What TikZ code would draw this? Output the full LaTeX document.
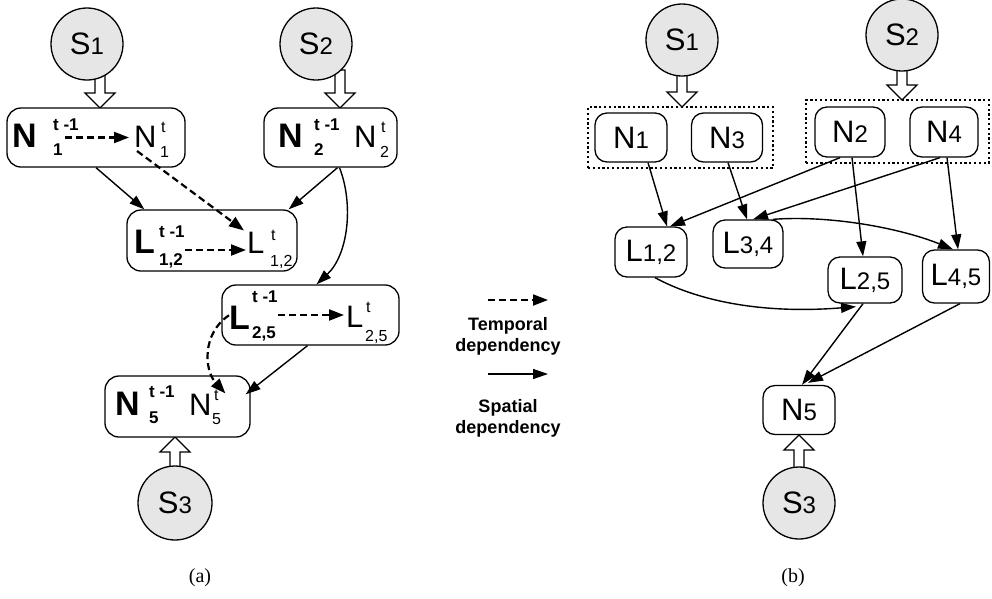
\documentclass[tikz,border=0pt]{standalone}
\usepackage{fontspec}
\setmainfont{Liberation Sans}
\newfontfamily\capserif{Liberation Serif}
\usetikzlibrary{arrows.meta,calc}
\definecolor{sgray}{HTML}{E6E6E6}
\newcommand{\myfA}{\fontsize{34}{34}\selectfont\bfseries}
\newcommand{\myfB}{\fontsize{31}{31}\selectfont}
\newcommand{\myfC}{\fontsize{17}{17}\selectfont\bfseries}
\newcommand{\myfD}{\fontsize{16}{16}\selectfont}
\newcommand{\myfE}{\fontsize{24}{24}\selectfont}
\newcommand{\myfL}{\fontsize{18}{21}\selectfont\bfseries}
\newcommand{\hdown}[2]{\draw[hol] ($(#1)+(-5,0)$) -- ($(#2)+(-5,-15)$) -- ($(#2)+(-15,-15)$) -- (#2) -- ($(#2)+(15,-15)$) -- ($(#2)+(5,-15)$) -- ($(#1)+(5,0)$) -- cycle;}
\newcommand{\hup}[2]{\draw[hol] ($(#1)+(-5,0)$) -- ($(#2)+(-5,15)$) -- ($(#2)+(-15,15)$) -- (#2) -- ($(#2)+(15,15)$) -- ($(#2)+(5,15)$) -- ($(#1)+(5,0)$) -- cycle;}
\tikzset{
 sens/.style={circle, draw, fill=sgray, line width=1.3pt, minimum size=72pt, inner sep=0pt},
 rbox/.style={draw, fill=white, rounded corners=14pt, line width=1.3pt, inner sep=0pt},
 txt/.style={inner sep=0pt, anchor=base west},
 sp/.style={line width=1.4pt, -{Triangle[length=15pt,width=10pt]}},
 tp/.style={line width=2.2pt, dash pattern=on 7pt off 4pt, -{Triangle[length=15pt,width=11pt]}},
 grp/.style={draw, line width=2.2pt, dash pattern=on 2.2pt off 2.6pt},
 hol/.style={draw, fill=white, line width=1.3pt, line join=miter},
}
\begin{document}
\begin{tikzpicture}[x=1pt,y=-1pt]
\useasboundingbox (0,0) rectangle (992,598);
% ---------------- (a) ----------------
\coordinate (ha1) at (100,70); \coordinate (hb1) at (100,108);
\coordinate (ha2) at (340,70); \coordinate (hb2) at (340,108);
\coordinate (ha3) at (175,475); \coordinate (hb3) at (175,437);
\hdown{ha1}{hb1}
\hdown{ha2}{hb2}
\hup{ha3}{hb3}
\node[sens] (S1) at (87,44) {\myfB S\myfE 1};
\node[sens] (S2) at (316,44) {\myfB S\myfE 2};
\node[sens, minimum size=74pt] (S3) at (175,503) {\myfB S\myfE 3};
\node[rbox, minimum width=178pt, minimum height=59pt] (N1) at (96,137.5) {};
\node[rbox, minimum width=133pt, minimum height=59pt] (N2) at (330.5,137.5) {};
\node[rbox, minimum width=170pt, minimum height=61pt] (L12) at (212,240.5) {};
\node[rbox, minimum width=177pt, minimum height=60pt] (L25) at (310.5,315) {};
\node[rbox, minimum width=145pt, minimum height=61pt] (N5) at (177.5,406.5) {};
% N1 contents
\node[txt] (N1p) at (12,147) {\myfA N};
\node[txt] (N1ps) at (53,130) {\myfC t -1};
\node[txt] (N1pb) at (53,155) {\myfC 1};
\node[txt] (N1c) at (134,147) {\myfB N};
\node[txt] (N1cs) at (161,132) {\myfD t};
\node[txt] (N1cb) at (160,157) {\myfD 1};
\draw[tp] ($(N1pb.east |- N1.center)+(2,0)$) -- ($(N1c.west |- N1.center)+(-5,0)$);
% N2 contents
\node[txt] (N2p) at (278,147) {\myfA N};
\node[txt] (N2ps) at (314,130) {\myfC t -1};
\node[txt] (N2pb) at (314,155) {\myfC 2};
\node[txt] (N2c) at (354,147) {\myfB N};
\node[txt] (N2cs) at (381,132) {\myfD t};
\node[txt] (N2cb) at (380,157) {\myfD 2};
% L12 contents
\node[txt] (L12p) at (134,253) {\myfA L};
\node[txt] (L12ps) at (159,237) {\myfC t -1};
\node[txt] (L12pb) at (159,265) {\myfC 1,2};
\node[txt] (L12c) at (247,253) {\myfB L};
\node[txt] (L12cs) at (271,240) {\myfD t};
\node[txt] (L12cb) at (270,266) {\myfD 1,2};
\draw[tp] ($(L12pb.east |- L12c.base west)+(2,-3)$) -- ($(L12c.base west)+(-1,-3)$);
% L25 contents
\node[txt] (L25p) at (229,329) {\myfA L};
\node[txt] (L25ps) at (252,302) {\myfC t -1};
\node[txt] (L25pb) at (252,338) {\myfC 2,5};
\node[txt] (L25c) at (346,327) {\myfB L};
\node[txt] (L25cs) at (366,312) {\myfD t};
\node[txt] (L25cb) at (365,341) {\myfD 2,5};
\draw[tp] ($(L25pb.east |- L25.center)+(2,0)$) -- ($(L25c.west |- L25.center)+(-2,0)$);
% N5 contents
\node[txt] (N5p) at (115,415) {\myfA N};
\node[txt] (N5ps) at (149,397) {\myfC t -1};
\node[txt] (N5pb) at (149,423) {\myfC 5};
\node[txt] (N5c) at (189,415) {\myfB N};
\node[txt] (N5cs) at (214,400) {\myfD t};
\node[txt] (N5cb) at (212,424) {\myfD 5};
% connectors (a)
\draw[sp] (N1.south) -- ($(L12.north west)+(18,0)$);
\draw[sp] ($(N2.south)+(7,0)$) -- ($(L12.north east)+(-9,0)$);
\draw[sp] ($(N2.south)+(9,0)$) .. controls (354,205) and (348,255) .. ($(L25.north)+(6,0)$);
\draw[tp] ($(N1c.base west)+(3,4)$) -- ($(L12c.north west)+(-3,-1)$);
\draw[sp] ($(L25.south)+(-3,0)$) -- ($(N5.north east)+(-5,19)$);
\draw[tp] ($(L25p.west)+(0,-2)$) .. controls (202,333) and (204,370) .. ($(N5c.north)+(25,0)$);
% legend
\coordinate (lg1) at (488,300); \coordinate (lg2) at (548,300);
\coordinate (lg3) at (488,374); \coordinate (lg4) at (548,374);
\draw[tp, line width=2pt] (lg1) -- (lg2);
\draw[sp] (lg3) -- (lg4);
\node[align=center, inner sep=0pt, font=\myfL] (tlab) at (508,336) {Temporal\\dependency};
\node[align=center, inner sep=0pt, font=\myfL] (slab) at (508,418) {Spatial\\dependency};
\node[inner sep=0pt, font=\capserif\fontsize{20}{20}\selectfont] (capa) at (200,578) {(a)};
% ---------------- (b) ----------------
\coordinate (hc1) at (682,70); \coordinate (hd1) at (682,107);
\coordinate (hc2) at (902,65); \coordinate (hd2) at (902,100);
\coordinate (hc3) at (799,472); \coordinate (hd3) at (799,435);
\hdown{hc1}{hd1}
\hdown{hc2}{hd2}
\hup{hc3}{hd3}
\node[sens] (T1) at (682,40) {\myfB S\myfE 1};
\node[sens] (T2) at (902,35) {\myfB S\myfE 2};
\node[sens] (T3) at (799,503) {\myfB S\myfE 3};
\node[grp, minimum width=185pt, minimum height=61pt, inner sep=0pt] (G1) at (680.5,137.5) {};
\node[grp, minimum width=183pt, minimum height=63pt, inner sep=0pt] (G2) at (897.5,131.5) {};
\node[rbox, minimum width=72pt, minimum height=49pt, rounded corners=12pt] (M1) at (631,137.5) {\myfB N\myfE 1};
\node[rbox, minimum width=71pt, minimum height=49pt, rounded corners=12pt] (M3) at (727,137.5) {\myfB N\myfE 3};
\node[rbox, minimum width=70pt, minimum height=50pt, rounded corners=12pt] (M2) at (850,132) {\myfB N\myfE 2};
\node[rbox, minimum width=68pt, minimum height=50pt, rounded corners=12pt] (M4) at (944,132) {\myfB N\myfE 4};
\node[rbox, minimum width=72pt, minimum height=50pt, rounded corners=12pt] (K12) at (651,252) {\myfB L\myfE 1,2};
\node[rbox, minimum width=70pt, minimum height=48pt, rounded corners=12pt] (K34) at (748,244) {\myfB L\myfE 3,4};
\node[rbox, minimum width=74pt, minimum height=46pt, rounded corners=12pt] (K25) at (865,280) {\myfB L\myfE 2,5};
\node[rbox, minimum width=67pt, minimum height=53pt, rounded corners=12pt] (K45) at (956,276.5) {\myfB L\myfE 4,5};
\node[rbox, minimum width=72pt, minimum height=49pt, rounded corners=12pt] (M5) at (799,410) {\myfB N\myfE 5};
% connectors (b)
\draw[sp] ($(M1.south)+(17,0)$) -- ($(K12.north)+(16,0)$);
\draw[sp] ($(M3.south)+(1,0)$) -- ($(K34.north)+(-1,0)$);
\draw[sp] ($(M2.south)+(-10,0)$) -- ($(K12.north)+(19,0)$);
\draw[sp] ($(M2.south)+(2,0)$) -- ($(K25.north)+(-2,0)$);
\draw[sp] ($(M4.south)+(-4,0)$) -- ($(K34.north)+(5,0)$);
\draw[sp] ($(M4.south)+(3,0)$) -- ($(K45.north)+(2,0)$);
\draw[sp] ($(K34.north east)+(-11,0)$) .. controls (830,215) and (900,228) .. ($(K45.north)+(-3,0)$);
\draw[sp] ($(K12.south)+(4,0)$) .. controls (700,302) and (765,314) .. ($(K25.south)+(-9,3)$);
\draw[sp] ($(K25.south)+(-2,0)$) -- ($(M5.north)+(3,0)$);
\draw[sp] ($(K45.south)+(4,0)$) -- ($(M5.north)+(9,-2)$);
\node[inner sep=0pt, font=\capserif\fontsize{20}{20}\selectfont] (capb) at (793,578) {(b)};
\end{tikzpicture}
\end{document}
